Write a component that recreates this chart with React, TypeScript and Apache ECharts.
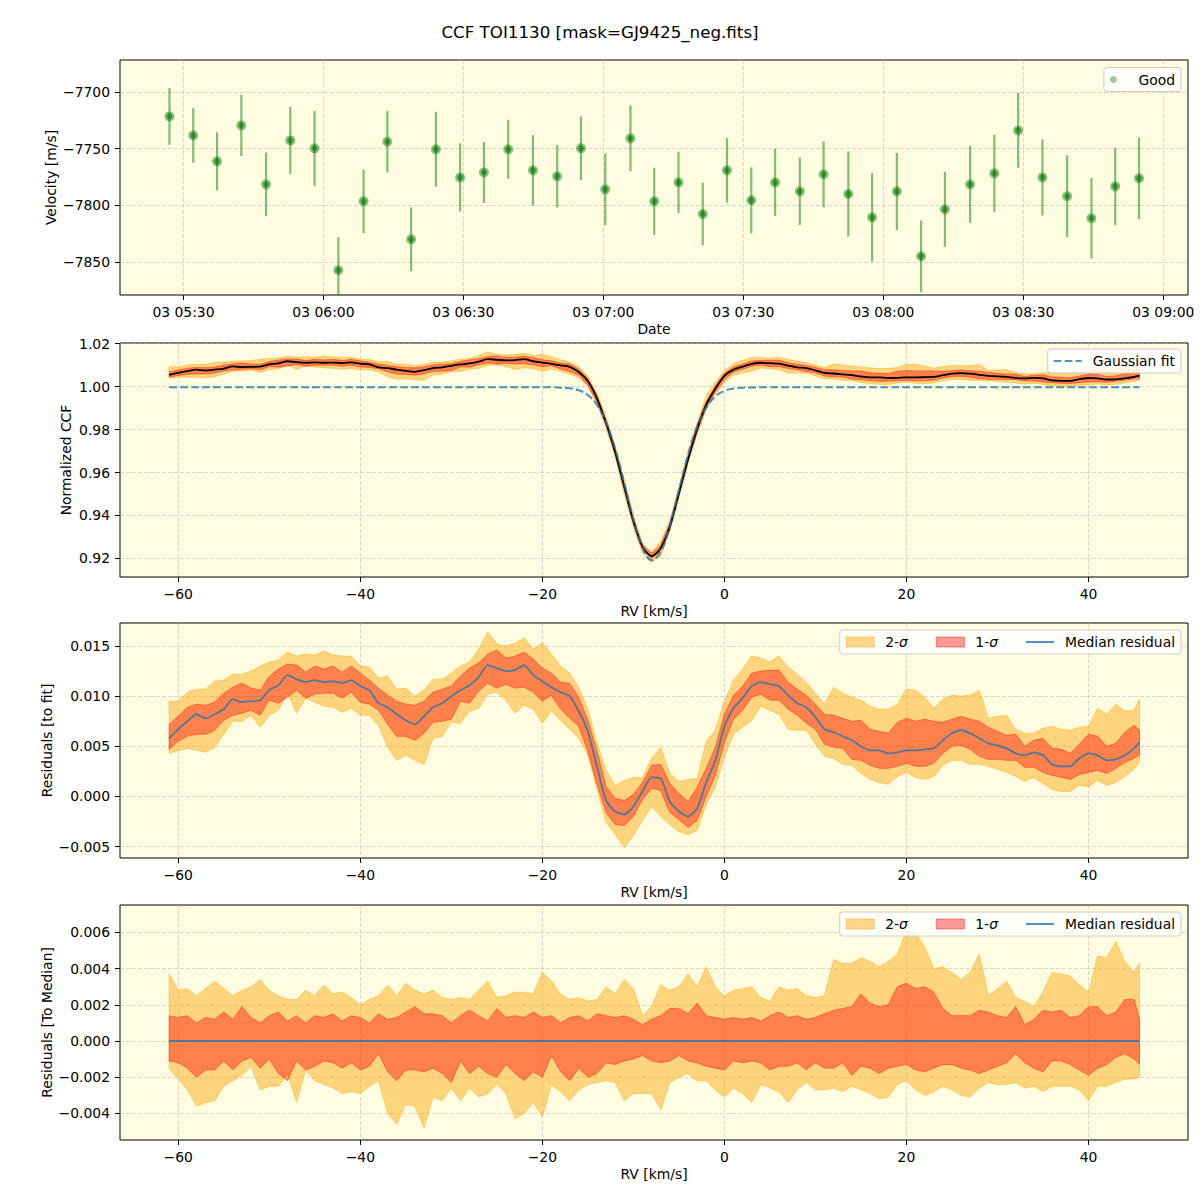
import React, { useEffect, useRef } from "react";
import * as echarts from "echarts";

const TITLE = "CCF TOI1130 [mask=GJ9425_neg.fits]";

// ---------- Panel 1: velocities (time in minutes after 00:00 of day 03) ----------
const obsMinutes = [
  327.0, 332.1, 337.2, 342.4, 347.7, 352.9, 358.1, 363.2, 368.6, 373.7,
  378.8, 384.1, 389.3, 394.4, 399.6, 404.9, 410.1, 415.2, 420.4, 425.8,
  430.9, 436.1, 441.3, 446.5, 451.7, 456.8, 462.1, 467.2, 472.5, 477.6,
  482.9, 488.1, 493.2, 498.6, 503.8, 508.9, 514.1, 519.4, 524.6, 529.7,
  534.8,
];
const velocity = [
  -7721.7, -7738.4, -7761.3, -7729.6, -7781.5, -7742.8, -7749.8, -7857.2, -7796.5, -7744.0,
  -7830.0, -7750.7, -7775.4, -7771.0, -7750.7, -7769.2, -7774.5, -7749.8, -7785.9, -7741.0,
  -7796.5, -7779.8, -7807.7, -7769.2, -7795.6, -7779.8, -7787.7, -7772.7, -7790.0, -7810.6,
  -7787.7, -7844.9, -7803.5, -7781.5, -7771.8, -7734.0, -7775.4, -7792.0, -7811.4, -7783.3,
  -7776.2,
];
const velocityErr = [
  25, 24, 25.5, 27, 28, 29.5, 33, 29, 28, 27,
  28, 33, 30, 27, 26, 31, 27.5, 28, 31.5, 29,
  29.5, 27, 27.5, 28.5, 29, 29.6, 29.7, 29, 37.5, 39,
  34, 31.5, 33, 34, 34, 33, 33.5, 36, 35.5, 34,
  36,
];
const timeTicks = [330, 360, 390, 420, 450, 480, 510, 540];
const velocityTicks = [-7850, -7800, -7750, -7700];

// ---------- RV grid and CCF profiles ----------
const rv = [
  -61, -60, -59, -58, -57, -56, -55, -54, -53, -52,
  -51, -50, -49, -48, -47, -46, -45, -44, -43, -42,
  -41, -40, -39, -38, -37, -36, -35, -34, -33, -32,
  -31, -30, -29, -28, -27, -26, -25, -24, -23, -22,
  -21, -20, -19, -18, -17, -16, -15, -14, -13, -12,
  -11, -10, -9, -8, -7, -6, -5, -4, -3, -2,
  -1, 0, 1, 2, 3, 4, 5, 6, 7, 8,
  9, 10, 11, 12, 13, 14, 15, 16, 17, 18,
  19, 20, 21, 22, 23, 24, 25, 26, 27, 28,
  29, 30, 31, 32, 33, 34, 35, 36, 37, 38,
  39, 40, 41, 42, 43, 44, 45, 45.6,
];
const gaussFit = [
  0.9997, 0.9997, 0.9997, 0.9997, 0.9997, 0.9997, 0.9997, 0.9997, 0.9997, 0.9997,
  0.9997, 0.9997, 0.9997, 0.9997, 0.9997, 0.9997, 0.9997, 0.9997, 0.9997, 0.9997,
  0.9997, 0.9997, 0.9997, 0.9997, 0.9997, 0.9997, 0.9997, 0.9997, 0.9997, 0.9997,
  0.9997, 0.9997, 0.9997, 0.9997, 0.9997, 0.9997, 0.9997, 0.9997, 0.9997, 0.9997,
  0.9997, 0.9997, 0.9997, 0.9995, 0.9992, 0.9983, 0.9961, 0.9915, 0.9834, 0.9711,
  0.9551, 0.9383, 0.9249, 0.9192, 0.9230, 0.9352, 0.9517, 0.9681, 0.9813, 0.9902,
  0.9954, 0.9980, 0.9991, 0.9995, 0.9996, 0.9997, 0.9997, 0.9997, 0.9997, 0.9997,
  0.9997, 0.9997, 0.9997, 0.9997, 0.9997, 0.9997, 0.9997, 0.9997, 0.9997, 0.9997,
  0.9997, 0.9997, 0.9997, 0.9997, 0.9997, 0.9997, 0.9997, 0.9997, 0.9997, 0.9997,
  0.9997, 0.9997, 0.9997, 0.9997, 0.9997, 0.9997, 0.9997, 0.9997, 0.9997, 0.9997,
  0.9997, 0.9997, 0.9997, 0.9997, 0.9997, 0.9997, 0.9997, 0.9997,
];
// median residual to the Gaussian fit
const residMedian = [
  0.0058, 0.0067, 0.0075, 0.0082, 0.0078, 0.0082, 0.0087, 0.0097, 0.0094, 0.0095,
  0.0096, 0.0106, 0.0111, 0.0121, 0.0117, 0.0114, 0.0116, 0.0114, 0.0115, 0.0113,
  0.0116, 0.0110, 0.0106, 0.0093, 0.0089, 0.0082, 0.0076, 0.0072, 0.0080, 0.0089,
  0.0093, 0.0100, 0.0106, 0.0111, 0.0119, 0.0131, 0.0128, 0.0125, 0.0126, 0.0131,
  0.0121, 0.0115, 0.0109, 0.0104, 0.0100, 0.0085, 0.0065, 0.0030, -0.0004, -0.0015,
  -0.0018, -0.0010, 0.0005, 0.0019, 0.0018, -0.0005, -0.0015, -0.0020, -0.0012, 0.0014,
  0.0036, 0.0070, 0.0088, 0.0098, 0.0110, 0.0114, 0.0112, 0.0110, 0.0101, 0.0093,
  0.0089, 0.0079, 0.0067, 0.0064, 0.0060, 0.0056, 0.0050, 0.0046, 0.0046, 0.0043,
  0.0044, 0.0046, 0.0046, 0.0047, 0.0048, 0.0056, 0.0063, 0.0066, 0.0063, 0.0058,
  0.0053, 0.0051, 0.0048, 0.0043, 0.0041, 0.0044, 0.0041, 0.0032, 0.0030, 0.0030,
  0.0038, 0.0043, 0.0041, 0.0036, 0.0037, 0.0041, 0.0048, 0.0054,
];
// band edges relative to the median
const offUp2 = [
  0.0037, 0.0028, 0.0029, 0.0025, 0.0029, 0.0033, 0.0029, 0.0025, 0.0028, 0.0030,
  0.0034, 0.0028, 0.0025, 0.0023, 0.0023, 0.0028, 0.0025, 0.0031, 0.0026, 0.0027,
  0.0024, 0.0020, 0.0023, 0.0025, 0.0031, 0.0025, 0.0032, 0.0028, 0.0026, 0.0028,
  0.0024, 0.0023, 0.0024, 0.0023, 0.0028, 0.0033, 0.0024, 0.0025, 0.0027, 0.0027,
  0.0026, 0.0038, 0.0033, 0.0026, 0.0023, 0.0024, 0.0022, 0.0023, 0.0030, 0.0026,
  0.0034, 0.0029, 0.0014, 0.0019, 0.0031, 0.0028, 0.0030, 0.0037, 0.0030, 0.0041,
  0.0030, 0.0025, 0.0028, 0.0029, 0.0030, 0.0024, 0.0022, 0.0030, 0.0028, 0.0029,
  0.0025, 0.0024, 0.0025, 0.0045, 0.0043, 0.0043, 0.0046, 0.0044, 0.0041, 0.0044,
  0.0048, 0.0061, 0.0060, 0.0052, 0.0040, 0.0041, 0.0038, 0.0034, 0.0038, 0.0048,
  0.0025, 0.0029, 0.0033, 0.0024, 0.0022, 0.0019, 0.0027, 0.0038, 0.0037, 0.0036,
  0.0031, 0.0027, 0.0047, 0.0046, 0.0055, 0.0044, 0.0038, 0.0043,
];
const offUp1 = [
  0.0014, 0.0013, 0.0014, 0.0010, 0.0013, 0.0012, 0.0016, 0.0012, 0.0019, 0.0013,
  0.0010, 0.0014, 0.0016, 0.0011, 0.0014, 0.0010, 0.0014, 0.0013, 0.0015, 0.0011,
  0.0014, 0.0013, 0.0010, 0.0015, 0.0012, 0.0013, 0.0016, 0.0019, 0.0015, 0.0015,
  0.0014, 0.0010, 0.0014, 0.0017, 0.0014, 0.0011, 0.0018, 0.0013, 0.0014, 0.0013,
  0.0016, 0.0013, 0.0014, 0.0010, 0.0013, 0.0014, 0.0011, 0.0015, 0.0014, 0.0013,
  0.0014, 0.0012, 0.0009, 0.0012, 0.0014, 0.0018, 0.0018, 0.0015, 0.0021, 0.0014,
  0.0013, 0.0012, 0.0013, 0.0012, 0.0013, 0.0011, 0.0014, 0.0016, 0.0013, 0.0014,
  0.0012, 0.0013, 0.0015, 0.0017, 0.0018, 0.0019, 0.0026, 0.0021, 0.0019, 0.0020,
  0.0030, 0.0032, 0.0029, 0.0030, 0.0027, 0.0018, 0.0014, 0.0014, 0.0014, 0.0017,
  0.0016, 0.0014, 0.0013, 0.0019, 0.0009, 0.0012, 0.0017, 0.0016, 0.0017, 0.0013,
  0.0014, 0.0019, 0.0019, 0.0014, 0.0016, 0.0023, 0.0023, 0.0012,
];
const offLo1 = [
  -0.0011, -0.0012, -0.0015, -0.0020, -0.0016, -0.0016, -0.0011, -0.0016, -0.0011, -0.0009,
  -0.0015, -0.0010, -0.0018, -0.0022, -0.0011, -0.0016, -0.0014, -0.0011, -0.0012, -0.0015,
  -0.0012, -0.0016, -0.0014, -0.0007, -0.0017, -0.0022, -0.0016, -0.0016, -0.0017, -0.0015,
  -0.0018, -0.0023, -0.0011, -0.0018, -0.0014, -0.0018, -0.0020, -0.0013, -0.0018, -0.0022,
  -0.0017, -0.0020, -0.0008, -0.0017, -0.0022, -0.0015, -0.0020, -0.0018, -0.0012, -0.0013,
  -0.0011, -0.0010, -0.0008, -0.0011, -0.0012, -0.0011, -0.0008, -0.0011, -0.0012, -0.0014,
  -0.0015, -0.0016, -0.0011, -0.0012, -0.0011, -0.0012, -0.0016, -0.0014, -0.0014, -0.0012,
  -0.0016, -0.0012, -0.0015, -0.0015, -0.0012, -0.0019, -0.0014, -0.0015, -0.0018, -0.0015,
  -0.0014, -0.0013, -0.0016, -0.0017, -0.0015, -0.0013, -0.0013, -0.0015, -0.0016, -0.0018,
  -0.0016, -0.0014, -0.0012, -0.0007, -0.0012, -0.0015, -0.0017, -0.0011, -0.0011, -0.0013,
  -0.0016, -0.0019, -0.0015, -0.0013, -0.0009, -0.0007, -0.0010, -0.0013,
];
const offLo2 = [
  -0.0015, -0.0021, -0.0027, -0.0036, -0.0034, -0.0033, -0.0025, -0.0022, -0.0019, -0.0014,
  -0.0027, -0.0025, -0.0025, -0.0018, -0.0034, -0.0016, -0.0022, -0.0024, -0.0026, -0.0029,
  -0.0028, -0.0029, -0.0025, -0.0022, -0.0040, -0.0046, -0.0035, -0.0036, -0.0048, -0.0031,
  -0.0033, -0.0026, -0.0033, -0.0026, -0.0031, -0.0029, -0.0024, -0.0029, -0.0043, -0.0040,
  -0.0034, -0.0042, -0.0024, -0.0028, -0.0033, -0.0027, -0.0024, -0.0023, -0.0022, -0.0023,
  -0.0033, -0.0029, -0.0029, -0.0029, -0.0038, -0.0023, -0.0020, -0.0018, -0.0022, -0.0022,
  -0.0027, -0.0031, -0.0026, -0.0029, -0.0034, -0.0024, -0.0026, -0.0028, -0.0034, -0.0027,
  -0.0023, -0.0027, -0.0027, -0.0026, -0.0028, -0.0025, -0.0027, -0.0029, -0.0032, -0.0031,
  -0.0024, -0.0022, -0.0027, -0.0030, -0.0028, -0.0025, -0.0027, -0.0030, -0.0031, -0.0026,
  -0.0023, -0.0024, -0.0024, -0.0023, -0.0026, -0.0025, -0.0028, -0.0025, -0.0025, -0.0025,
  -0.0027, -0.0033, -0.0025, -0.0025, -0.0023, -0.0021, -0.0021, -0.0020,
];

const rvTicks = [-60, -40, -20, 0, 20, 40];
const ccfTicks = [0.92, 0.94, 0.96, 0.98, 1.0, 1.02];
const residTicks = [-0.005, 0, 0.005, 0.01, 0.015];
const medTicks = [-0.004, -0.002, 0, 0.002, 0.004, 0.006];

// ---------- styling ----------
const FONT = "DejaVu Sans";
const FS = 13.9;
const BG = "#fefde2";
const FILL2 = "rgba(255,165,0,0.45)";
const FILL1 = "rgba(255,0,0,0.4)";
const BLUE = "rgba(31,119,180,0.8)";
const GREEN = "rgba(0,128,0,0.5)";
const GREEN_OUTER = "rgba(0,128,0,0.58)";
const GREEN_INNER = "rgba(0,105,0,0.6)";

const fixMinus = (s: string) => s.replace("-", "\u2212");
const pad2 = (n: number) => String(n).padStart(2, "0");

function buildOption() {
  const add = (a: number[], b: number[]) => a.map((v, i) => v + b[i]);
  const ccfMedian = add(gaussFit, residMedian);
  const pairs = (ys: number[]) => rv.map((x, i) => [x, ys[i]]);

  const splitLine = {
    show: true,
    lineStyle: { color: "rgba(176,176,176,0.6)", width: 0.8, type: [4, 2] },
  };
  const nameStyle = { color: "#000", fontFamily: FONT, fontSize: FS };
  const tick = (values: number[]) => ({
    show: true,
    inside: false,
    length: 5,
    lineStyle: { color: "#000", width: 1 },
    customValues: values,
  });
  const label = (values: number[], formatter: (v: number) => string) => ({
    show: true,
    customValues: values,
    margin: 10,
    color: "#000",
    fontFamily: FONT,
    fontSize: FS,
    formatter,
  });
  const axisLine = { show: false, onZero: false };

  const grids = [
    { top: 60, height: 235 },
    { top: 343, height: 234 },
    { top: 623, height: 235 },
    { top: 905, height: 235 },
  ].map((g) => ({
    left: 120,
    width: 1068,
    top: g.top,
    height: g.height,
    show: true,
    backgroundColor: BG,
    borderColor: "#000",
    borderWidth: 1,
    containLabel: false,
    outerBoundsMode: "none",
  }));

  const rvAxis = (gridIndex: number) => ({
    type: "value",
    gridIndex,
    position: "bottom",
    min: -66.4,
    max: 50.93,
    minInterval: 20,
    maxInterval: 20,
    name: "RV [km/s]",
    nameLocation: "middle",
    nameGap: 27,
    nameMoveOverlap: false,
    nameTextStyle: nameStyle,
    axisLine,
    axisTick: tick(rvTicks),
    axisLabel: label(rvTicks, (v) => fixMinus(String(Math.round(v)))),
    splitLine,
  });

  const yAxisDef = (
    gridIndex: number,
    min: number,
    max: number,
    step: number,
    ticks: number[],
    name: string,
    nameGap: number,
    digits: number
  ) => ({
    type: "value",
    gridIndex,
    position: "left",
    min,
    max,
    minInterval: step,
    maxInterval: step,
    name,
    nameLocation: "middle",
    nameGap,
    nameMoveOverlap: false,
    nameTextStyle: nameStyle,
    axisLine,
    axisTick: tick(ticks),
    axisLabel: label(ticks, (v) => {
      const val = Math.abs(v) < 1e-12 ? 0 : v;
      return fixMinus(digits < 0 ? String(Math.round(val)) : val.toFixed(digits));
    }),
    splitLine,
  });

  const xAxis = [
    {
      type: "value",
      gridIndex: 0,
      position: "bottom",
      min: 316.4,
      max: 545.3,
      minInterval: 30,
      maxInterval: 30,
      name: "Date",
      nameLocation: "middle",
      nameGap: 27,
      nameMoveOverlap: false,
      nameTextStyle: nameStyle,
      axisLine,
      axisTick: tick(timeTicks),
      axisLabel: label(timeTicks, (v) => {
        const m = Math.round(v);
        return `03 ${pad2(Math.floor(m / 60))}:${pad2(m % 60)}`;
      }),
      splitLine,
    },
    rvAxis(1),
    rvAxis(2),
    rvAxis(3),
  ];

  const yAxis = [
    yAxisDef(0, -7879, -7672, 50, velocityTicks, "Velocity [m/s]", 62, -1),
    yAxisDef(1, 0.91136, 1.0203, 0.02, ccfTicks, "Normalized CCF", 47, 2),
    yAxisDef(2, -0.00614, 0.0173, 0.005, residTicks, "Residuals [to fit]", 66, 3),
    yAxisDef(3, -0.005474, 0.00752, 0.002, medTicks, "Residuals [To Median]", 66, 3),
  ];

  const band = (name: string, axis: number, lo: number[], hi: number[], fill: string, z: number) => ({
    type: "custom",
    name,
    xAxisIndex: axis,
    yAxisIndex: axis,
    z,
    silent: true,
    itemStyle: { color: fill },
    data: [[rv[0], lo[0]]],
    renderItem: (_params: any, api: any) => {
      const pts: number[][] = [];
      for (let i = 0; i < rv.length; i++) pts.push(api.coord([rv[i], hi[i]]));
      for (let i = rv.length - 1; i >= 0; i--) pts.push(api.coord([rv[i], lo[i]]));
      return {
        type: "polygon",
        shape: { points: pts },
        style: { fill, stroke: fill, lineWidth: 1 },
      };
    },
  });

  const line = (name: string, axis: number, data: number[][], color: string, width: number, z: number, extra: any = {}) => ({
    type: "line",
    name,
    xAxisIndex: axis,
    yAxisIndex: axis,
    data,
    symbol: "none",
    showSymbol: false,
    silent: true,
    z,
    lineStyle: { color, width, ...(extra.lineStyle || {}) },
    itemStyle: { color },
    smooth: extra.smooth ?? false,
  });

  const series: any[] = [
    // Panel 1
    {
      type: "custom",
      name: "errbars",
      xAxisIndex: 0,
      yAxisIndex: 0,
      z: 2,
      silent: true,
      data: obsMinutes.map((t, i) => [t, velocity[i], velocityErr[i]]),
      renderItem: (params: any, api: any) => {
        const t = api.value(0);
        const v = api.value(1);
        const e = api.value(2);
        const cs = params.coordSys;
        const clampY = (y: number) => Math.max(cs.y, Math.min(cs.y + cs.height, y));
        const p1 = api.coord([t, v - e]);
        const p2 = api.coord([t, v + e]);
        return {
          type: "line",
          shape: { x1: p1[0], y1: clampY(p1[1]), x2: p2[0], y2: clampY(p2[1]) },
          style: { stroke: GREEN, lineWidth: 2.2 },
        };
      },
    },
    {
      type: "scatter",
      name: "outer",
      xAxisIndex: 0,
      yAxisIndex: 0,
      z: 3,
      silent: true,
      symbol: "circle",
      symbolSize: 10,
      itemStyle: { color: GREEN_OUTER },
      data: obsMinutes.map((t, i) => [t, velocity[i]]),
    },
    {
      type: "scatter",
      name: "Good",
      xAxisIndex: 0,
      yAxisIndex: 0,
      z: 4,
      silent: true,
      symbol: "circle",
      symbolSize: 6,
      itemStyle: { color: GREEN_INNER },
      data: obsMinutes.map((t, i) => [t, velocity[i]]),
    },
    // Panel 2
    band("ccf 2s", 1, add(ccfMedian, offLo2), add(ccfMedian, offUp2), FILL2, 2),
    band("ccf 1s", 1, add(ccfMedian, offLo1), add(ccfMedian, offUp1), FILL1, 3),
    line("CCF median", 1, pairs(ccfMedian), "#000", 1.8, 4, { smooth: 0.3 }),
    line("Gaussian fit", 1, pairs(gaussFit), BLUE, 2.1, 5, { smooth: 0.4, lineStyle: { type: [7.7, 3.3] } }),
    // Panel 3
    band("2-σ", 2, add(residMedian, offLo2), add(residMedian, offUp2), FILL2, 2),
    band("1-σ", 2, add(residMedian, offLo1), add(residMedian, offUp1), FILL1, 3),
    line("Median residual", 2, pairs(residMedian), BLUE, 1.8, 4, { smooth: 0.2 }),
    // Panel 4
    band("2-σ", 3, offLo2, offUp2, FILL2, 2),
    band("1-σ", 3, offLo1, offUp1, FILL1, 3),
    line("Median residual", 3, [[rv[0], 0], [rv[rv.length - 1], 0]], BLUE, 1.8, 4),
  ];

  const legendBase = {
    orient: "horizontal",
    right: 19,
    selectedMode: false,
    backgroundColor: "rgba(255,255,255,0.8)",
    borderColor: "#cccccc",
    borderWidth: 1,
    borderRadius: 3,
    padding: [4, 6, 4, 6],
    itemWidth: 28,
    itemHeight: 10,
    itemGap: 28,
    textStyle: {
      color: "#000",
      fontFamily: FONT,
      fontSize: FS,
      lineHeight: 16,
      padding: [0, 0, 0, 6],
      rich: { i: { fontStyle: "italic", fontFamily: FONT, fontSize: FS, lineHeight: 16, color: "#000" } },
    },
    formatter: (name: string) => name.replace("σ", "{i|σ}"),
  };
  const solidIcon = "path://M0,0H28V2H0Z";
  const dashIcon = "path://M0,0H7.7V2H0Z M11,0H18.7V2H11Z M22,0H28V2H22Z";
  const bandLegend = [
    { name: "2-σ", icon: "rect", itemStyle: { color: FILL2, borderColor: FILL2, borderWidth: 1 } },
    { name: "1-σ", icon: "rect", itemStyle: { color: FILL1, borderColor: FILL1, borderWidth: 1 } },
    { name: "Median residual", icon: solidIcon, itemStyle: { color: BLUE, borderWidth: 0 } },
  ];

  const legend = [
    {
      ...legendBase,
      top: 67.5,
      itemHeight: 7,
      data: [{ name: "Good", icon: "circle", itemStyle: { color: GREEN, borderWidth: 0 } }],
    },
    {
      ...legendBase,
      top: 349,
      data: [{ name: "Gaussian fit", icon: dashIcon, itemStyle: { color: BLUE, borderWidth: 0 } }],
    },
    { ...legendBase, top: 630, data: bandLegend },
    { ...legendBase, top: 912, data: bandLegend },
  ];

  return {
    animation: false,
    backgroundColor: "#ffffff",
    textStyle: { fontFamily: FONT },
    title: {
      text: TITLE,
      left: "center",
      top: 23,
      padding: 0,
      textStyle: { fontFamily: FONT, fontSize: 16.7, fontWeight: "normal", color: "#000" },
    },
    grid: grids,
    xAxis,
    yAxis,
    legend,
    series,
  };
}

export default function App() {
  const ref = useRef<HTMLDivElement>(null);
  useEffect(() => {
    if (!ref.current) return;
    const chart = echarts.init(ref.current, null, { renderer: "svg" });
    chart.setOption(buildOption() as any);
    return () => chart.dispose();
  }, []);
  return (
    <div
      ref={ref}
      style={{ position: "absolute", left: 0, top: 0, width: 1200, height: 1200 }}
    />
  );
}
